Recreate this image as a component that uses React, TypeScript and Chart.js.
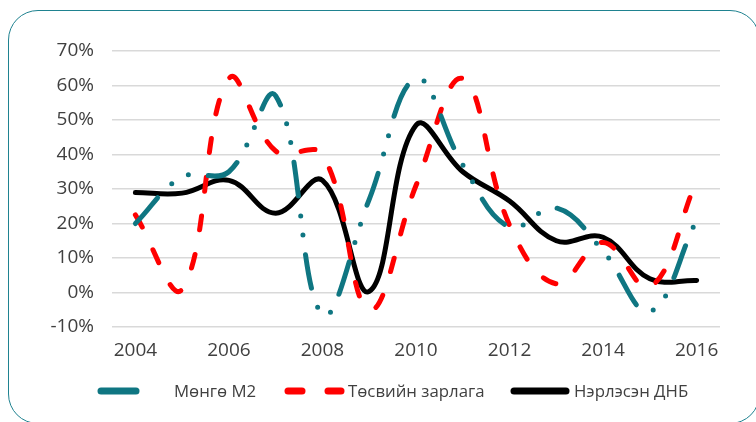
import React, { useEffect, useRef } from "react";
import { Chart, registerables } from "chart.js";

Chart.register(...registerables);

// ---- data ----
const years = ["2004", "2005", "2006", "2007", "2008", "2009", "2010", "2011", "2012", "2013", "2014", "2015", "2016"];
const m2 = [20, 33.5, 35, 57, -6.5, 27, 62, 37, 19, 24.5, 12, -5.5, 21];
const budget = [22.5, 1, 62, 41, 40, -5, 31, 62, 19.5, 2.5, 14.5, 1.5, 32.5];
const gdp = [29, 28.8, 32.5, 23, 32.5, 0.3, 48.5, 35, 26.5, 15, 16, 4, 3.5];
const yMin = -10;
const yMax = 70;
const yStep = 10;
const seriesNames = ["Мөнгө M2", "Төсвийн зарлага", "Нэрлэсэн ДНБ"];

// ---- style ----
const TEAL = "#0f7682";
const RED = "#ff0000";
const BLACK = "#000000";
const FONT = "'Open Sans', 'Noto Sans', sans-serif";
const TEXT = "#404040";

const tealDash = [34, 20, 0, 19, 0, 20];
const redDash = [14, 25];

export default function App() {
  const ref = useRef<HTMLCanvasElement | null>(null);

  useEffect(() => {
    if (!ref.current) return;
    const chart = new Chart(ref.current, {
      type: "line",
      data: {
        labels: years,
        datasets: [
          {
            label: seriesNames[0],
            data: m2,
            borderColor: TEAL,
            borderWidth: 5,
            borderDash: tealDash,
            borderCapStyle: "round",
            borderJoinStyle: "round",
            pointRadius: 0,
            tension: 0.4,
            fill: false,
          },
          {
            label: seriesNames[1],
            data: budget,
            borderColor: RED,
            borderWidth: 5,
            borderDash: redDash,
            borderCapStyle: "round",
            borderJoinStyle: "round",
            pointRadius: 0,
            tension: 0.4,
            fill: false,
          },
          {
            label: seriesNames[2],
            data: gdp,
            borderColor: BLACK,
            borderWidth: 5,
            borderCapStyle: "round",
            borderJoinStyle: "round",
            pointRadius: 0,
            tension: 0.4,
            fill: false,
          },
        ],
      },
      options: {
        animation: false,
        responsive: false,
        devicePixelRatio: 1,
        layout: { padding: { left: 0, right: 36, top: 51, bottom: 45 } },
        plugins: {
          legend: { display: false },
          tooltip: { enabled: false },
        },
        scales: {
          x: {
            type: "category",
            offset: true,
            grid: { display: false, drawTicks: false },
            border: { display: false },
            ticks: {
              autoSkip: false,
              maxRotation: 0,
              padding: 12,
              color: TEXT,
              font: { family: FONT, size: 19 },
              callback: (_v: any, i: number) => (i % 2 === 0 ? years[i] : ""),
            },
            afterFit: (s: any) => {
              s.height = 50;
            },
          },
          y: {
            min: yMin,
            max: yMax,
            grid: { color: "#d9d9d9", lineWidth: 1.5, drawTicks: false },
            border: { display: false },
            ticks: {
              stepSize: yStep,
              padding: 18,
              color: TEXT,
              font: { family: FONT, size: 19 },
              callback: (v: any) => `${v}%`,
            },
            afterFit: (s: any) => {
              s.width = 112;
            },
          },
        },
      },
    });
    return () => chart.destroy();
  }, []);

  const legendItems = [
    { name: seriesNames[0], color: TEAL, sym: 98, text: 174, kind: "teal" },
    { name: seriesNames[1], color: RED, sym: 285, text: 348, kind: "red" },
    { name: seriesNames[2], color: BLACK, sym: 511, text: 574, kind: "black" },
  ];

  return (
    <div style={{ position: "fixed", inset: 0, overflow: "hidden", background: "#fff" }}>
      <div
        style={{
          position: "absolute",
          left: 8,
          top: 10,
          width: 752,
          height: 414,
          border: "1.3px solid #1f8290",
          borderRadius: 30,
          boxSizing: "border-box",
        }}
      />
      <canvas
        ref={ref}
        width={756}
        height={422}
        style={{ position: "absolute", left: 0, top: 0, width: 756, height: 422, display: "block" }}
      />
      {legendItems.map((it) => (
        <React.Fragment key={it.name}>
          <svg
            width={62}
            height={12}
            style={{ position: "absolute", left: it.sym - 2, top: 385, overflow: "visible" }}
          >
            {it.kind === "teal" && (
              <line x1={5} y1={6} x2={40} y2={6} stroke={it.color} strokeWidth={7} strokeLinecap="round" />
            )}
            {it.kind === "red" && (
              <>
                <line x1={5} y1={6} x2={19} y2={6} stroke={it.color} strokeWidth={7} strokeLinecap="round" />
                <line x1={45} y1={6} x2={58} y2={6} stroke={it.color} strokeWidth={7} strokeLinecap="round" />
              </>
            )}
            {it.kind === "black" && (
              <line x1={5} y1={6} x2={57} y2={6} stroke={it.color} strokeWidth={7} strokeLinecap="round" />
            )}
          </svg>
          <span
            style={{
              position: "absolute",
              left: it.text,
              top: 378,
              fontFamily: FONT,
              fontSize: 16.8,
              color: TEXT,
              lineHeight: "26px",
              whiteSpace: "nowrap",
            }}
          >
            {it.name}
          </span>
        </React.Fragment>
      ))}
    </div>
  );
}
